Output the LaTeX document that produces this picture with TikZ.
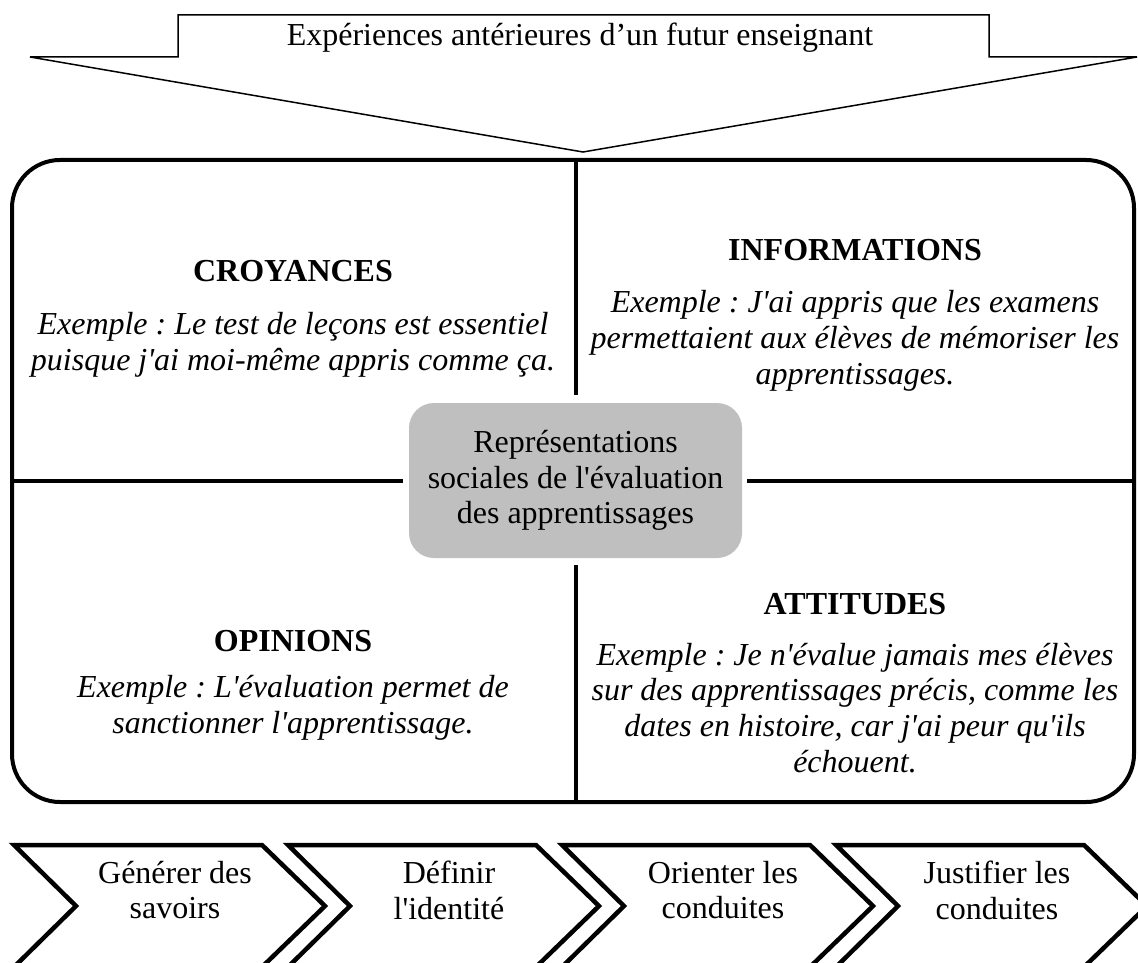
\documentclass[tikz,border=0pt]{standalone}
\usepackage{fontspec}
\setmainfont{Liberation Serif}[Ligatures=TeXOff]
\definecolor{centerfill}{RGB}{191,191,191}
\frenchspacing
\begin{document}
\frenchspacing
\begin{tikzpicture}[x=1pt,y=-1pt,
  txt/.style={font=\fontsize{32}{35.8}\selectfont, align=center, inner sep=0pt},
  head/.style={txt, font=\fontsize{32}{35.8}\selectfont\bfseries},
  ex/.style={txt, font=\fontsize{32}{35.8}\selectfont\itshape},
  chev/.style={draw, line width=4.5pt, line join=miter},
  thinline/.style={draw, line width=1.5pt, line join=miter},
  divider/.style={draw, line width=4pt}]
\useasboundingbox (0,0) rectangle (1138,963);
\clip (0,0) rectangle (1138,963);
% top arrow
\draw[thinline] (178,15) -- (989,15) -- (989,57) -- (1137,57) -- (583,152) -- (30,57) -- (178,57) -- cycle;
\node[txt] (exp) at (580,38) {Expériences antérieures d’un futur enseignant};
% main box
\node[draw, line width=4pt, rounded corners=48pt, minimum width=1122pt, minimum height=642pt, inner sep=0pt, outer sep=0pt] (box) at (573,481) {};
% centre
\node[txt, fill=centerfill, rounded corners=25pt, minimum width=333pt, minimum height=155pt] (rep) at (575.5,480.5) {Représentations\\sociales de l'évaluation\\des apprentissages};
% dividers
\draw[divider, shorten >=8pt] (box.north -| rep.center) -- (rep.north);
\draw[divider, shorten >=7pt] (box.south -| rep.center) -- (rep.south);
\draw[divider, shorten >=6pt] (box.west |- rep.center) -- (rep.west);
\draw[divider, shorten >=5pt] (box.east |- rep.center) -- (rep.east);
% quadrants
\node[head] (croy) at (293,271) {CROYANCES};
\node[ex] (croyex) at (293,345) {Exemple : Le test de leçons est essentiel\\puisque j'ai moi-même appris comme ça.};
\node[head] (info) at (855,250) {INFORMATIONS};
\node[ex] (infoex) at (855,341) {Exemple : J'ai appris que les examens\\permettaient aux élèves de mémoriser les\\apprentissages.};
\node[head] (opin) at (293,641) {OPINIONS};
\node[ex] (opinex) at (293,708) {Exemple : L'évaluation permet de\\sanctionner l'apprentissage.};
\node[head] (att) at (855,604) {ATTITUDES};
\node[ex] (attex) at (855,708) {Exemple : Je n'évalue jamais mes élèves\\sur des apprentissages précis, comme les\\dates en histoire, car j'ai peur qu'ils\\échouent.};
% chevrons
\draw[chev] (14,845) -- (262,845) -- (325,906) -- (262,967) -- (14,967) -- (76,906) -- cycle;
\draw[chev] (288,845) -- (536,845) -- (599,906) -- (536,967) -- (288,967) -- (350,906) -- cycle;
\draw[chev] (562,845) -- (810,845) -- (873,906) -- (810,967) -- (562,967) -- (624,906) -- cycle;
\draw[chev] (836,845) -- (1084,845) -- (1147,906) -- (1084,967) -- (836,967) -- (898,906) -- cycle;
\node[txt] (c1) at (175,890) {Générer des\\savoirs};
\node[txt] (c2) at (449,890) {Définir\\l'identité};
\node[txt] (c3) at (723,890) {Orienter les\\conduites};
\node[txt] (c4) at (997,890) {Justifier les\\conduites};
\end{tikzpicture}
\end{document}
